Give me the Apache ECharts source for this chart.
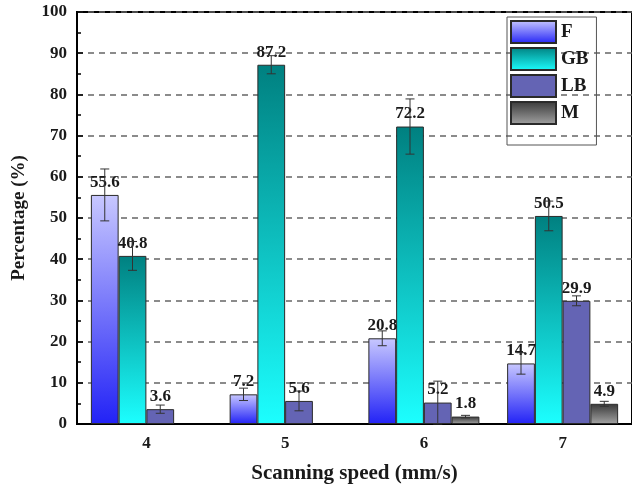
<!DOCTYPE html>
<html>
<head>
<meta charset="utf-8">
<script src="https://cdn.jsdelivr.net/npm/echarts@6/dist/echarts.min.js"></script>
<style>
html,body{margin:0;padding:0;background:#fff;}
#chart{width:632px;height:493px;}
</style>
</head>
<body>
<div id="chart"></div>
<script>
const categories = ['4', '5', '6', '7'];
const seriesNames = ['F', 'GB', 'LB', 'M'];
const valuesF  = [55.6, 7.2, 20.8, 14.7];
const valuesGB = [40.8, 87.2, 72.2, 50.5];
const valuesLB = [3.6, 5.6, 5.2, 29.9];
const valuesM  = [null, null, 1.8, 4.9];
const errF  = [6.3, 1.5, 1.8, 2.6];
const errGB = [3.5, 2.2, 6.7, 3.6];
const errLB = [1.0, 2.4, 5.2, 1.2];
const errM  = [null, null, 0.3, 0.6];
const yTicks = [0, 10, 20, 30, 40, 50, 60, 70, 80, 90, 100];

const allValues = [valuesF, valuesGB, valuesLB, valuesM];
const allErrs = [errF, errGB, errLB, errM];

const FONT = 'Liberation Serif';
const grad = (top, bottom) => new echarts.graphic.LinearGradient(0, 0, 0, 1, [
  { offset: 0, color: top }, { offset: 1, color: bottom }
]);
const fills = [
  grad('#c8c8ff', '#2222f6'),
  grad('#008080', '#1cffff'),
  '#6464b4',
  grad('#383838', '#a4a4a4')
];

const errData = [];
allValues.forEach((vals, si) => {
  vals.forEach((v, ci) => {
    const e = allErrs[si][ci];
    if (v != null && e != null) errData.push([ci, v - e, v + e, si]);
  });
});

const nSeries = seriesNames.length;
const catGap = 0.2;

const barSeries = seriesNames.map((name, si) => ({
  name: name,
  type: 'bar',
  data: allValues[si],
  barGap: '0%',
  barCategoryGap: '20%',
  itemStyle: { color: fills[si], borderColor: '#2a2a2a', borderWidth: 1 },
  label: {
    show: true, position: 'top', distance: 4,
    fontFamily: FONT, fontWeight: 'bold', fontSize: 17, color: '#1a1a1a',
    formatter: p => p.value == null ? '' : p.value.toFixed(1)
  },
  z: 2
}));

const errSeries = {
  type: 'custom',
  data: errData,
  z: 3,
  silent: true,
  renderItem: function (params, api) {
    const ci = api.value(0), lo = api.value(1), hi = api.value(2), si = api.value(3);
    const band = api.size([1, 0])[0];
    const bw = band * (1 - catGap) / nSeries;
    const base = api.coord([ci, 0]);
    const x = base[0] - band * (1 - catGap) / 2 + bw * (si + 0.5);
    const yLo = api.coord([ci, lo])[1];
    const yHi = api.coord([ci, hi])[1];
    const cap = 4.5;
    const st = { stroke: '#333', lineWidth: 1 };
    return {
      type: 'group',
      children: [
        { type: 'line', shape: { x1: x, y1: yLo, x2: x, y2: yHi }, style: st },
        { type: 'line', shape: { x1: x - cap, y1: yLo, x2: x + cap, y2: yLo }, style: st },
        { type: 'line', shape: { x1: x - cap, y1: yHi, x2: x + cap, y2: yHi }, style: st }
      ]
    };
  }
};

const chart = echarts.init(document.getElementById('chart'), null, { renderer: 'canvas' });
chart.setOption({
  animation: false,
  backgroundColor: '#fff',
  grid: { left: 77, right: 0, top: 12, bottom: 69, show: true, borderColor: '#000', borderWidth: 2 },
  legend: {
    data: seriesNames,
    orient: 'vertical',
    left: 507, top: 17,
    itemWidth: 45, itemHeight: 22, itemGap: 3,
    icon: 'rect',
    padding: [3, 8, 20, 3],
    borderColor: '#555', borderWidth: 1,
    textStyle: { fontFamily: FONT, fontWeight: 'bold', fontSize: 19, color: '#1a1a1a', padding: [0, 0, 0, 0] }
  },
  xAxis: {
    type: 'category',
    data: categories,
    name: 'Scanning speed (mm/s)',
    nameLocation: 'middle',
    nameGap: 39,
    nameTextStyle: { fontFamily: FONT, fontWeight: 'bold', fontSize: 21, color: '#1a1a1a' },
    axisLine: { lineStyle: { color: '#000', width: 2 } },
    axisTick: { inside: true, length: 5, lineStyle: { color: '#000', width: 1.5 } },
    axisLabel: { fontFamily: FONT, fontWeight: 'bold', fontSize: 17, color: '#1a1a1a', margin: 11 },
    splitLine: { show: false }
  },
  yAxis: {
    type: 'value',
    min: yTicks[0], max: yTicks[yTicks.length - 1], interval: 10,
    name: 'Percentage (%)',
    nameLocation: 'middle',
    nameGap: 48,
    nameTextStyle: { fontFamily: FONT, fontWeight: 'bold', fontSize: 19, color: '#1a1a1a' },
    axisLine: { show: true, lineStyle: { color: '#000', width: 2 } },
    axisTick: { show: true, inside: true, length: 6, lineStyle: { color: '#000', width: 1.5 } },
    minorTick: { show: true, splitNumber: 2, length: 4, lineStyle: { color: '#000', width: 1.5 } },
    axisLabel: { fontFamily: FONT, fontWeight: 'bold', fontSize: 17, color: '#1a1a1a', margin: 10 },
    splitLine: { show: true, lineStyle: { color: '#666', width: 1.5, type: [6, 5] } }
  },
  series: barSeries.concat([errSeries])
});
</script>
</body>
</html>
